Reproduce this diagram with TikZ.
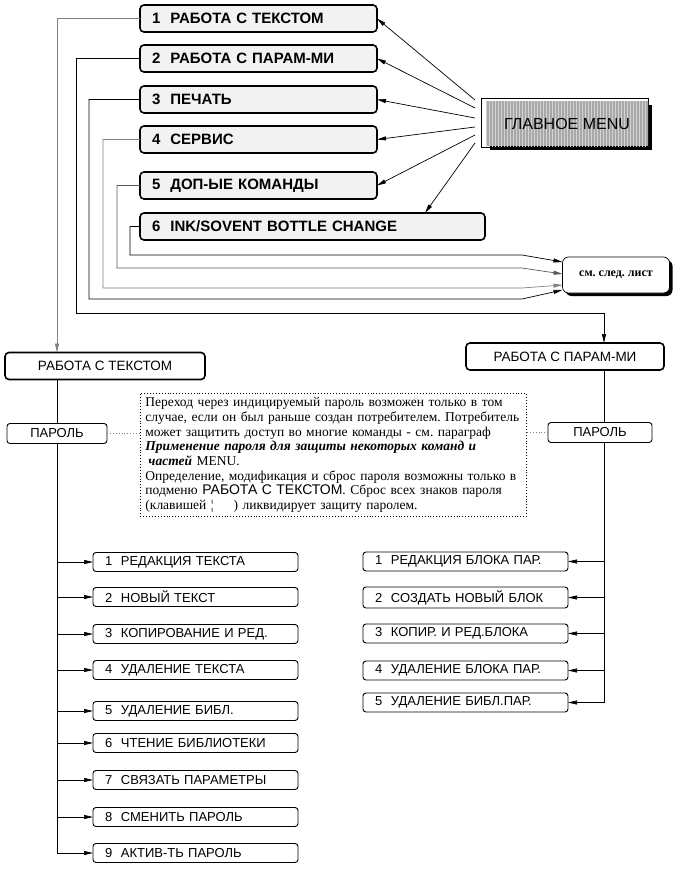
\documentclass[tikz,border=0pt]{standalone}
\usepackage{fontspec}
\setmainfont{Liberation Serif}
\setsansfont{Liberation Sans}
\usetikzlibrary{arrows.meta,calc,patterns,shadows}
\frenchspacing

\begin{document}
\begin{tikzpicture}[x=1pt, y=-1pt,
line width=0.7pt,
 >={Triangle[length=9pt,width=4pt]},
    menu/.style = {rectangle, draw, rounded corners=4pt,% entries of the main menu
                   line width=1.6pt, fill=gray!10, anchor=west,
                   minimum height=27pt, text width=213pt, inner xsep=12pt,
                   outer sep=0pt, align=left,
                   font=\sffamily\bfseries\fontsize{15}{17}\selectfont},
    mainbox/.style = {rectangle, fill=gray!68,% the dark striped box
                   postaction={pattern=vertical lines, pattern color=gray!35},
                   drop shadow={shadow xshift=4pt, shadow yshift=-4pt,
                                fill=black, opacity=1},
                   minimum width=162pt, minimum height=45pt, outer sep=0pt,
                   font=\sffamily\fontsize{16}{18}\selectfont},
    see/.style = {rectangle, draw, rounded corners=6pt, fill=white,
                   drop shadow={shadow xshift=3pt, shadow yshift=-3pt,
                                fill=black, opacity=1},
                   minimum width=107pt, minimum height=36pt, outer sep=0pt,
                   font=\bfseries\fontsize{12}{14}\selectfont},
    head/.style = {rectangle, draw, rounded corners=4pt, line width=1.6pt,
                   minimum height=27pt, outer sep=0pt,
                   font=\sffamily\fontsize{13.5}{15}\selectfont},
    pass/.style = {rectangle, draw, rounded corners=3pt, line width=0.9pt,
                   minimum height=20pt, outer sep=0pt,
                   font=\sffamily\fontsize{13}{14}\selectfont},
    item/.style = {rectangle, draw, rounded corners=3pt, line width=0.9pt,
                   minimum height=19pt, text width=181pt, inner xsep=12pt,
                   outer sep=0pt, align=left,
                   font=\sffamily\fontsize{13}{14}\selectfont},
    note/.style = {rectangle, draw, dotted, line width=0.9pt,
                   text width=376pt, inner xsep=5pt, inner ysep=4pt,
                   anchor=north west, align=left,
                   font=\fontsize{13.5}{14.7}\selectfont},
                        ]
\useasboundingbox (0,0) rectangle (678,870);

% main menu
\node[menu] (m1) at (140,18.5)  {1~~РАБОТА С ТЕКСТОМ};
\node[menu] (m2) at (140,58.5)  {2~~РАБОТА С ПАРАМ-МИ};
\node[menu] (m3) at (140,99.5)  {3~~ПЕЧАТЬ};
\node[menu] (m4) at (140,139.5) {4~~СЕРВИС};
\node[menu] (m5) at (140,185.5) {5~~ДОП-ЫЕ КОМАНДЫ};
\node[menu, text width=321pt] (m6) at (140,226.5) {6~~INK/SOVENT BOTTLE CHANGE};

\node[draw, fill=white, line width=0.6pt, minimum width=167pt,
      minimum height=49pt] (frame) at (564.5,122.5) {};
\node[mainbox] (main) at (567,123.5) {ГЛАВНОЕ MENU};
\node[see] (see) at (616,275) {см. след. лист};

\foreach \i/\o in {1/-23.5,2/-15.5,3/-5.5,4/3.5,5/11.5}% <-- arrows to the entries
    \draw[->] ($(main.west)+(-11,\o)$) -- (m\i.east);
\draw[->] ($(main.west)+(-11,19.5)$) -- ($(m6.north east)+(-60,0)$);

% lower level
\node[head, minimum width=200pt] (t1) at (105,366) {РАБОТА С ТЕКСТОМ};
\node[head, minimum width=198pt] (p2) at (565,356.5) {РАБОТА С ПАРАМ-МИ};
\node[pass, minimum width=100pt] (pw1) at (57,433.5) {ПАРОЛЬ};
\node[pass, minimum width=104pt] (pw2) at (600,432.5) {ПАРОЛЬ};

\coordinate (xa) at (57,0);
\coordinate (xr) at (604,0);
\coordinate (xs) at (522,0);
\coordinate (b2) at (76,313);
\coordinate (b3) at (89,299);
\coordinate (b4) at (103,288);
\coordinate (b5) at (117,268);
\coordinate (b6) at (130,255);

\draw[->, gray] (m1.west) -| (xa |- t1.north);
\draw[->] (m2.west) -| (b2) -| (xr |- p2.north);
\draw[->] (m3.west) -| (b3) -- (b3 -| xs) -- ($(see.west)+(0,15)$);
\draw[->, gray] (m4.west) -| (b4) -- (b4 -| xs) -- ($(see.west)+(0,10)$);
\draw[->, gray!70!black] (m5.west) -| (b5) -- (b5 -| xs) -- ($(see.west)+(0,-1)$);
\draw[->] (m6.west) -| (b6) -- (b6 -| xs) -- ($(see.west)+(0,-13)$);

\node[note] (note) at (140,393) {Переход через индицируемый пароль возможен только в том\\
случае, если он был раньше создан потребителем. Потребитель\\
может защитить доступ во многие команды - см. параграф\\
\textbf{\textit{Применение пароля для защиты некоторых команд и}}\\
\hspace*{3pt}\textbf{\textit{частей}} MENU.\\
Определение, модификация и сброс пароля возможны только в\\
подменю {\sffamily\fontsize{14}{14.7}\selectfont РАБОТА С ТЕКСТОМ}. Сброс всех знаков пароля\\
(клавишей ¦\hspace{20pt}) ликвидирует защиту паролем.};

\draw[gray, dotted, line width=0.9pt] (pw1.east) -- (pw1.east -| note.west);
\draw[gray, dotted, line width=0.9pt] (note.east |- pw2.west) -- (pw2.west);

\draw (xa |- t1.south) -- (pw1.north);
\draw (xr |- p2.south) -- (xr |- pw2.north);

\foreach \i/\y/\t in {1/562/РЕДАКЦИЯ ТЕКСТА, 2/597/НОВЫЙ ТЕКСТ,
                      3/634/КОПИРОВАНИЕ И РЕД., 4/670/УДАЛЕНИЕ ТЕКСТА,
                      5/711/УДАЛЕНИЕ БИБЛ., 6/743/ЧТЕНИЕ БИБЛИОТЕКИ,
                      7/780/СВЯЗАТЬ ПАРАМЕТРЫ, 8/817/СМЕНИТЬ ПАРОЛЬ,
                      9/853/АКТИВ-ТЬ ПАРОЛЬ}% <-- text submenu
  {\node[item] (l\i) at (195.5,\y) {\i~~\t};
   \draw[->] (xa |- l\i.west) -- (l\i.west);}
\draw (pw1.south) -- (xa |- l9.west);

\foreach \i/\y/\t in {1/561.5/РЕДАКЦИЯ БЛОКА ПАР., 2/597.5/СОЗДАТЬ НОВЫЙ БЛОК,
                      3/633.5/КОПИР. И РЕД.БЛОКА, 4/670.5/УДАЛЕНИЕ БЛОКА ПАР.,
                      5/702.5/УДАЛЕНИЕ БИБЛ.ПАР.}% <-- parameter submenu
  {\node[item] (r\i) at (465.5,\y) {\i~~\t};
   \draw[->] (xr |- r\i.east) -- (r\i.east);}
\draw (xr |- pw2.south) -- (xr |- r5.east);
\end{tikzpicture}
\end{document}
